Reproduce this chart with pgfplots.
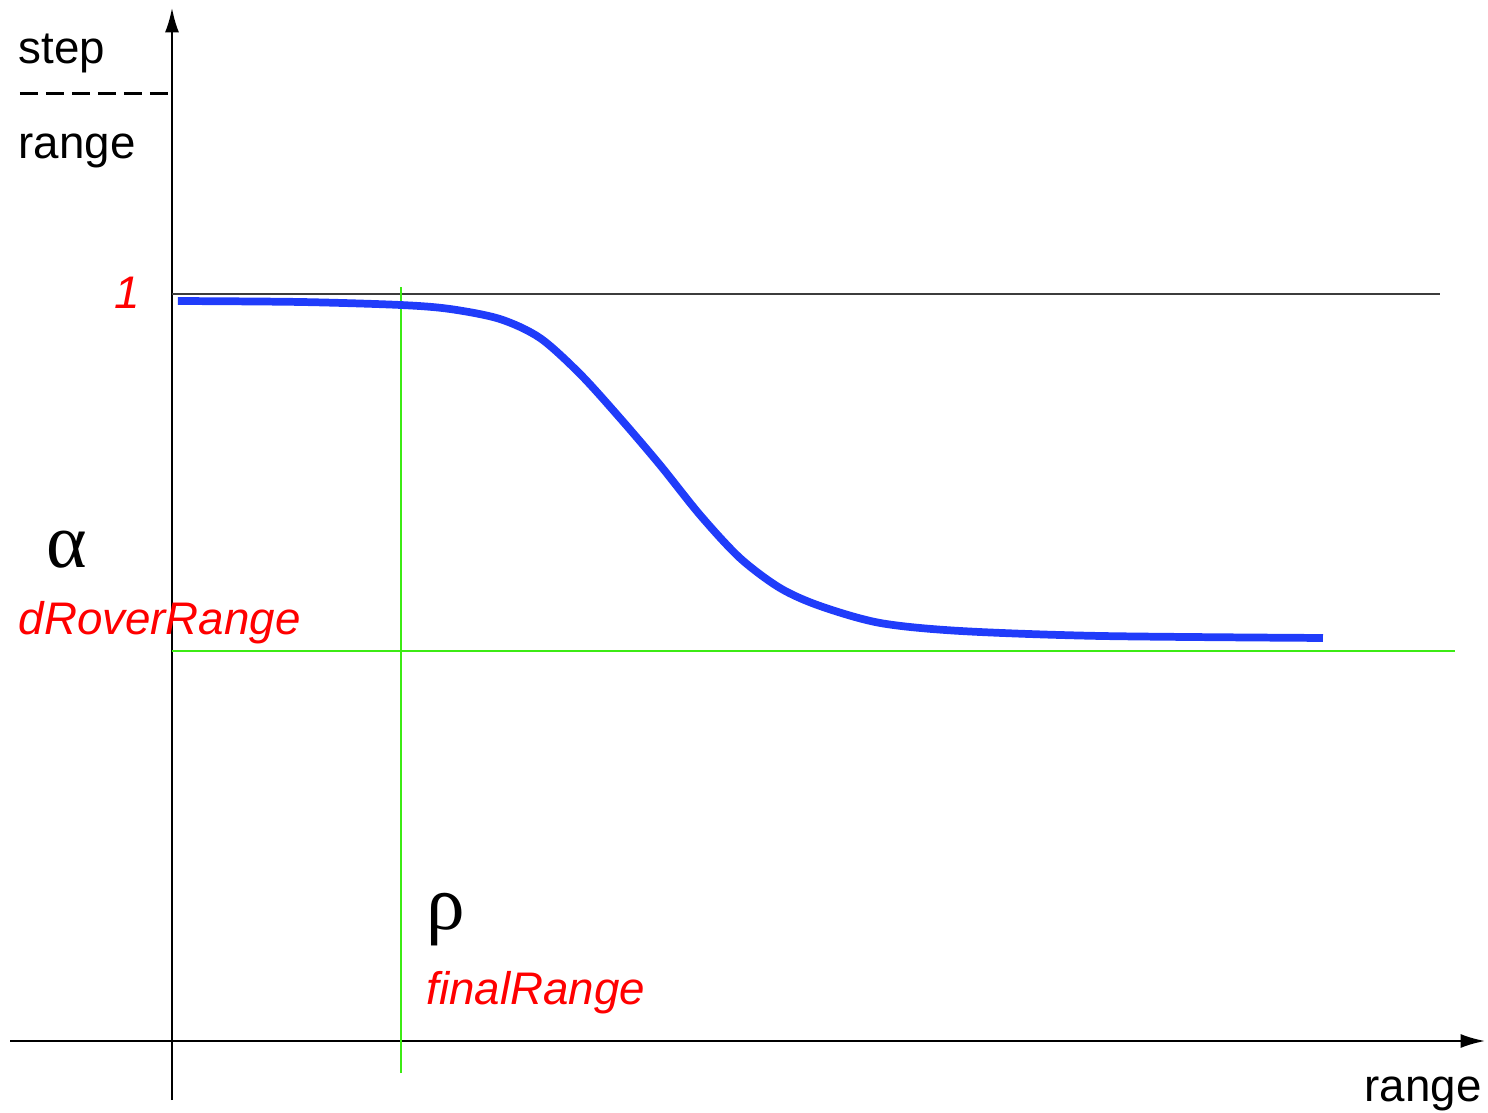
\documentclass[border=0pt]{standalone}
\usepackage{pgfplots}
\pgfplotsset{compat=1.18}
\usetikzlibrary{arrows.meta}
\usepackage{fontspec}
\setmainfont{Liberation Sans}
\newfontfamily\greekfont{Liberation Serif}

\definecolor{curveblue}{RGB}{32,60,250}
\definecolor{limegreen}{RGB}{60,235,20}
\definecolor{darkline}{RGB}{60,60,60}

\tikzset{lbl/.style={inner sep=0pt, anchor=base west, font=\fontsize{13}{15}\selectfont}}

\begin{document}
\begin{tikzpicture}
\begin{axis}[
    hide axis,
    scale only axis,
    width=14.88cm, height=11.12cm,
    xmin=-0.7511, xmax=5.7467,
    ymin=-0.09505, ymax=1.39357,
    clip=false,
]
% axes with arrows
\addplot[black, line width=0.6pt, -{Latex[length=7pt,width=4pt]}]
    coordinates {(-0.707,0) (5.734,0)};
\addplot[black, line width=0.6pt, -{Latex[length=7pt,width=4pt]}]
    coordinates {(0,-0.079) (0,1.383)};

% reference level 1
\addplot[darkline, line width=0.6pt] coordinates {(0,1) (5.537,1)};

% green guide lines
\addplot[limegreen, line width=0.7pt] coordinates {(0,0.522) (5.603,0.522)};
\addplot[limegreen, line width=0.7pt] coordinates {(1,-0.043) (1,1.009)};

% dashed fraction bar
\addplot[black, line width=0.9pt, dash pattern=on 5pt off 2.4pt]
    coordinates {(-0.664,1.268) (0.013,1.268)};

% step function
\addplot[curveblue, line width=2.2pt, smooth] coordinates {
    (0.026,0.9906) (0.559,0.9893) (0.996,0.9853) (1.214,0.9799)
    (1.432,0.9665) (1.607,0.9411) (1.782,0.8929) (1.956,0.8340)
    (2.131,0.7711) (2.306,0.7041) (2.480,0.6466) (2.655,0.6064)
    (2.830,0.5823) (3.092,0.5596) (3.441,0.5489) (4.052,0.5422)
    (5.026,0.5395)
};

\node[lbl] at (axis cs:-0.6725,1.3079) {step};
\node[lbl] at (axis cs:-0.6725,1.1807) {range};
\node[lbl, text=red] at (axis cs:-0.2533,0.9812) {\itshape 1};
\node[lbl, font=\fontsize{22}{24}\selectfont] at (axis cs:-0.5502,0.6345) {\greekfont α};
\node[lbl, text=red] at (axis cs:-0.6725,0.5435) {\itshape dRoverRange};
\node[lbl, font=\fontsize{22}{24}\selectfont] at (axis cs:1.1092,0.1499) {\greekfont ρ};
\node[lbl, text=red] at (axis cs:1.1092,0.0495) {\itshape finalRange};
\node[lbl] at (axis cs:5.2052,-0.0804) {range};

\coordinate (bl) at (rel axis cs:0,0);
\coordinate (tr) at (rel axis cs:1,1);
\end{axis}
\pgfresetboundingbox
\path[use as bounding box] (bl) rectangle (tr);
\end{tikzpicture}
\end{document}
